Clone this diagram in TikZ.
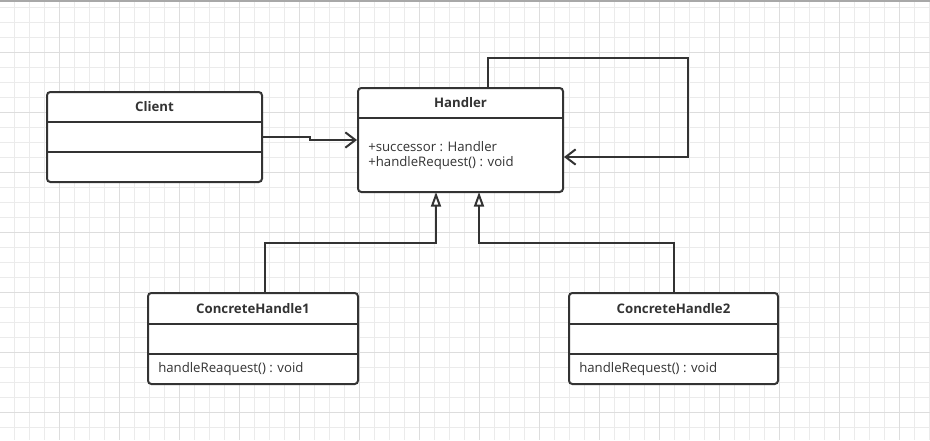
\documentclass[tikz,border=0pt]{standalone}
\usepackage{fontspec}
\setmainfont{Open Sans}
\usetikzlibrary{arrows.meta}
\definecolor{ink}{HTML}{333333}
\definecolor{gridminor}{HTML}{EBEBEB}
\definecolor{gridmajor}{HTML}{DDDDDD}
\definecolor{topline}{HTML}{A8A8A8}
\tikzset{
  umlbox/.style={draw=ink, line width=1.5pt, rounded corners=2.5pt, fill=white, inner sep=0pt},
  divider/.style={draw=ink, line width=1.5pt},
  title/.style={font=\bfseries\fontsize{9.9pt}{11pt}\selectfont, text=ink, inner sep=0pt},
  member/.style={font=\fontsize{9.9pt}{11pt}\selectfont, text=ink, inner sep=0pt, anchor=west},
  conn/.style={draw=ink, line width=1.5pt},
  assoc/.style={conn, -{Straight Barb[length=7.5pt, width=11.5pt, line width=1.5pt]}},
  inherit/.style={conn, -{Triangle[open, fill=white, length=11pt, width=7.5pt, line width=1.5pt]}}
}
\begin{document}
\begin{tikzpicture}[x=0.75pt, y=-0.75pt]
\useasboundingbox (0,0) rectangle (930,440);
\fill[white] (0,0) rectangle (930,440);
% grid
\foreach \gx in {14.5,29.5,...,930} \draw[gridminor, line width=0.75pt] (\gx,0) -- (\gx,440);
\foreach \gy in {7,22,...,440} \draw[gridminor, line width=0.75pt] (0,\gy) -- (930,\gy);
\foreach \gx in {59.5,119.5,...,930} \draw[gridmajor, line width=0.75pt] (\gx,0) -- (\gx,440);
\foreach \gy in {52,112,...,440} \draw[gridmajor, line width=0.75pt] (0,\gy) -- (930,\gy);
\draw[topline, line width=1.2pt] (0,1) -- (930,1);

% Client
\node[umlbox, minimum width={215*0.75pt}, minimum height={90*0.75pt}] (client) at (154.5,137) {};
\draw[divider] (client.west |- 0,122) -- (client.east |- 0,122);
\draw[divider] (client.west |- 0,152) -- (client.east |- 0,152);
\node[title] (clientt) at (154.5,107) {Client};

% Handler
\node[umlbox, minimum width={205*0.75pt}, minimum height={104*0.75pt}] (handler) at (460.5,140) {};
\draw[divider] (handler.west |- 0,118) -- (handler.east |- 0,118);
\node[title] (handlert) at (460.5,103) {Handler};
\node[member] (hattr) at (368,147) {+successor : Handler};
\node[member] (hmeth) at (368,163) {+handleRequest() : void};

% ConcreteHandle1
\node[umlbox, minimum width={210*0.75pt}, minimum height={91*0.75pt}] (ch1) at (253,338.5) {};
\draw[divider] (ch1.west |- 0,324) -- (ch1.east |- 0,324);
\draw[divider] (ch1.west |- 0,354) -- (ch1.east |- 0,354);
\node[title] (ch1t) at (253,309) {ConcreteHandle1};
\node[member] (ch1m) at (158,369) {handleReaquest() : void};

% ConcreteHandle2
\node[umlbox, minimum width={209*0.75pt}, minimum height={91*0.75pt}] (ch2) at (673.5,338.5) {};
\draw[divider] (ch2.west |- 0,324) -- (ch2.east |- 0,324);
\draw[divider] (ch2.west |- 0,354) -- (ch2.east |- 0,354);
\node[title] (ch2t) at (673.5,309) {ConcreteHandle2};
\node[member] (ch2m) at (579,369) {handleRequest() : void};

% connectors
\coordinate (c1) at (310,137);
\coordinate (c2) at (310,140);
\draw[assoc] (client.east) -- (c1) -- (c2) -- (handler.west);

\coordinate (loopstart) at (488,88);
\coordinate (loopcorner) at (688,58);
\coordinate (loopend) at (688,157);
\draw[assoc] (loopstart) |- (loopcorner) -- (loopend) -- (handler.east |- loopend);

\coordinate (ch1top) at (265,293);
\coordinate (h1) at (436,192);
\draw[inherit] (ch1top) -- (265,243) -| (h1);

\coordinate (ch2top) at (674,293);
\coordinate (h2) at (479,192);
\draw[inherit] (ch2top) -- (674,243) -| (h2);
\end{tikzpicture}
\end{document}
